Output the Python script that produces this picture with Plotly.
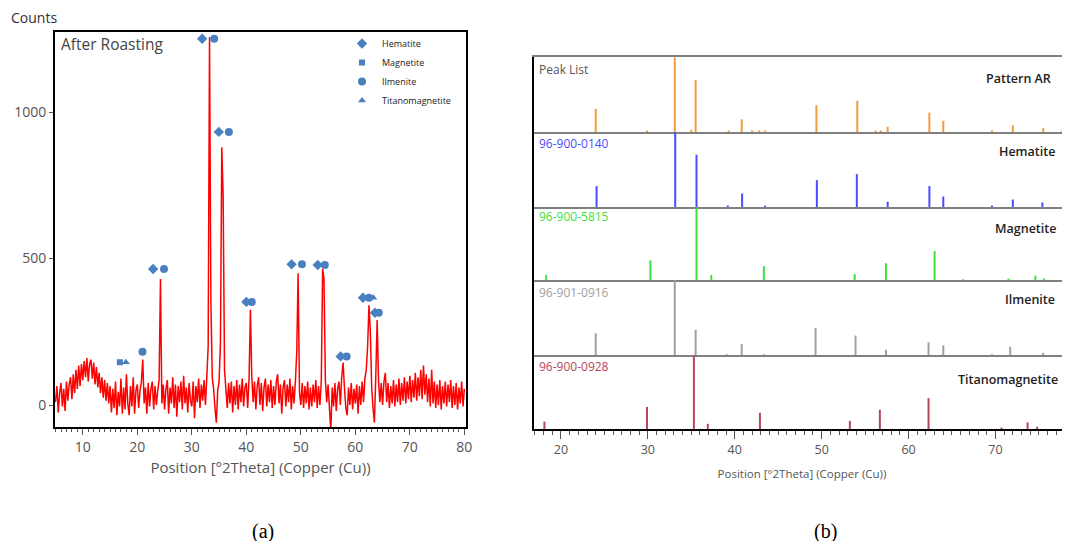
import plotly.graph_objects as go

PAGE_W, PAGE_H = 1070, 541
OFFSET = 8  # default page margin of the html body
W, H = PAGE_W - OFFSET, PAGE_H - OFFSET

# ---------------- (a) After Roasting diffractogram ----------------
TWO_THETA_START = 5.0
TWO_THETA_STEP = 0.25
COUNTS = [
    # 5.00 - 9.75
    10, 65, -25, 40, 75, -5, 55, -20, 80, 15, 70, 95, 20, 105, 40, 120, 55, 135, 65, 140,
    # 10.00 - 14.75
    85, 150, 95, 160, 80, 140, 155, 90, 145, 70, 130, 60, 110, 40, 95, 25, 85, 15, 75, 5,
    # 15.00 - 19.75
    65, -25, 55, -10, 80, -35, 45, -5, 90, -30, 60, -15, 105, 5, -35, 65, -5, 95, -30, 50,
    # 20.00 - 24.75
    70, -10, 50, 80, 155, 5, 60, -30, 75, -5, 55, 80, -15, 65, 0, 50, 85, 430, 5, 70,
    # 25.00 - 29.75
    -15, 55, 85, -30, 60, 5, 95, -10, 70, -40, 65, 10, 80, -15, 100, 5, 60, -25, 75, 15,
    # 30.00 - 34.75
    -5, 80, -45, 65, 10, 90, -10, 70, 15, 85, 0, 95, 200, 1255, 350, 95, 55, -10, -60, 50,
    # 35.00 - 39.75
    80, 210, 880, 710, 120, 55, -10, 75, 5, 80, -25, 65, 0, 85, -15, 70, 10, 90, -5, 60,
    # 40.00 - 44.75
    75, -10, 90, 325, 95, 10, 80, -15, 65, 95, 0, 75, -20, 60, 90, -5, 70, 10, 85, -10,
    # 45.00 - 49.75
    65, 0, 80, 105, 5, 70, -30, 60, 85, -5, 70, 10, 90, -15, 65, 5, 80, 180, 450, 45,
    # 50.00 - 54.75
    0, 75, -10, 65, 5, 80, -15, 60, -5, 70, 10, 85, -10, 65, 0, 80, 465, 430, 85, 10,
    # 55.00 - 59.75
    70, -10, -90, 60, -5, 75, -20, 55, 80, 0, 95, 145, 60, -10, -35, 60, 0, 75, -15, 55,
    # 60.00 - 64.75
    5, 70, -30, 65, 0, 80, 10, 90, 120, 200, 340, 250, 60, -10, -60, 100, 290, 85, 10, 75,
    # 65.00 - 69.75
    0, 80, 110, 10, 75, -10, 65, 5, 85, -5, 70, 10, 90, 0, 75, 15, 95, 5, 80, 20,
    # 70.00 - 74.75
    100, 10, 85, 25, 110, 15, 95, 30, 120, 20, 135, 35, 105, 10, 90, -5, 120, 5, 80, -10,
    # 75.00 - 80.00
    70, 0, 85, -15, 65, 5, 80, -5, 70, 10, 85, -10, 65, 0, 75, -15, 60, 5, 80, -5, 55,
]

HEM_MARK_X = [22.9, 31.9, 34.95, 40.0, 48.3, 53.1, 57.3, 61.4, 63.6]
HEM_MARK_Y = [464, 1250, 932, 352, 480, 478, 166, 366, 315]
MAG_MARK_X = [16.8]
MAG_MARK_Y = [146]
ILM_MARK_X = [20.95, 24.9, 34.1, 36.8, 41.0, 50.2, 54.4, 58.4, 62.5, 64.3]
ILM_MARK_Y = [182, 464, 1250, 932, 352, 480, 478, 166, 366, 315]
TIM_MARK_X = [17.9, 63.3]
TIM_MARK_Y = [146, 366]

# ---------------- (b) reference patterns (relative intensity) ----------------
AR_POS = [24.0, 29.9, 33.1, 35.0, 35.5, 39.3, 40.8, 42.0, 42.8, 43.5, 49.4, 54.1,
          56.2, 56.8, 57.6, 62.4, 64.0, 69.6, 72.0, 75.5, 77.7]
AR_INT = [31, 2, 100, 3, 70, 2, 17, 2, 2, 2, 36, 42, 2, 2, 7, 26, 15, 2, 9, 5, 2]

HEM_POS = [24.1, 33.15, 35.6, 39.2, 40.85, 43.5, 49.45, 54.05, 57.6, 62.4, 64.0, 69.6, 72.0, 75.4]
HEM_INT = [28, 100, 70, 2, 18, 2, 36, 44, 7, 28, 14, 2, 10, 6]

MAG_POS = [18.3, 30.3, 35.6, 37.3, 43.35, 53.8, 57.4, 63.0, 66.3, 71.5, 74.6, 75.6]
MAG_INT = [7, 27, 100, 7, 19, 8, 23, 40, 1, 2, 6, 2]

ILM_POS = [24.0, 33.1, 35.5, 39.1, 40.8, 43.35, 49.3, 53.9, 57.4, 62.3, 64.0, 69.6, 71.7, 75.5]
ILM_INT = [29, 100, 34, 1, 15, 1, 36, 26, 7, 17, 13, 1, 11, 3]

TIM_POS = [18.1, 29.9, 35.3, 36.9, 42.9, 53.25, 56.7, 62.3, 70.7, 73.7, 74.8]
TIM_INT = [10, 30, 100, 7, 22, 11, 26, 42, 2, 9, 3]

PANEL_CODES = ["Peak List", "96-900-0140", "96-900-5815", "96-901-0916", "96-900-0928"]
PANEL_NAMES = ["Pattern AR", "Hematite", "Magnetite", "Ilmenite", "Titanomagnetite"]
PANEL_COLORS = ["#f59a3c", "#4b4bff", "#3fe03f", "#a0a0a0", "#b5475a"]
CODE_COLORS = ["#555555", "#4b4bff", "#3fe03f", "#a0a0a0", "#b5475a"]
PANEL_DATA = [(AR_POS, AR_INT), (HEM_POS, HEM_INT), (MAG_POS, MAG_INT),
              (ILM_POS, ILM_INT), (TIM_POS, TIM_INT)]

FONT = "Open Sans"
MARK_COLOR = "#4a80c0"


def px_x(p):
    return (p - OFFSET) / W


def px_y(p):
    return 1 - (p - OFFSET) / H


def sticks(pos, inten):
    xs, ys = [], []
    for p, v in zip(pos, inten):
        xs += [p, p, None]
        ys += [0, v, None]
    return xs, ys


fig = go.Figure()

# left diffractogram
fig.add_trace(go.Scatter(y=COUNTS, x0=TWO_THETA_START, dx=TWO_THETA_STEP, mode="lines",
                         line=dict(color="#ff0000", width=1.5, simplify=False),
                         showlegend=False, xaxis="x", yaxis="y"))

for name, xs, ys, sym, size in [
    ("Hematite", HEM_MARK_X, HEM_MARK_Y, "diamond", 8),
    ("Magnetite", MAG_MARK_X, MAG_MARK_Y, "square", 6),
    ("Ilmenite", ILM_MARK_X, ILM_MARK_Y, "circle", 8),
    ("Titanomagnetite", TIM_MARK_X, TIM_MARK_Y, "triangle-up", 7),
]:
    fig.add_trace(go.Scatter(x=xs, y=ys, mode="markers", name=name,
                             marker=dict(symbol=sym, size=size, color=MARK_COLOR),
                             xaxis="x", yaxis="y"))

# right stacked stick patterns
panel_px = [(57, 132), (132, 207), (207, 280), (280, 355), (355, 429)]
for i, ((pos, inten), col) in enumerate(zip(PANEL_DATA, PANEL_COLORS)):
    xs, ys = sticks(pos, inten)
    k = i + 2
    fig.add_trace(go.Scatter(x=xs, y=ys, mode="lines", line=dict(color=col, width=2),
                             showlegend=False, hoverinfo="skip",
                             xaxis=f"x{k}", yaxis=f"y{k}"))

layout = dict(
    width=W, height=H,
    margin=dict(l=0, r=0, t=0, b=0, autoexpand=False),
    paper_bgcolor="white", plot_bgcolor="white",
    font=dict(family=FONT, color="#444444"),
    legend=dict(x=px_x(342), y=px_y(29), xanchor="left", yanchor="top",
                bgcolor="rgba(0,0,0,0)", font=dict(size=9, color="#222222"),
                tracegroupgap=0, itemsizing="trace"),
    xaxis=dict(domain=[px_x(55), px_x(466)], range=[4.9, 80.3], anchor="y",
               automargin=False,
               showline=True, linecolor="black", linewidth=2, mirror=True,
               showgrid=False, zeroline=False,
               ticks="outside", ticklen=6, tickcolor="#555555", dtick=10, tick0=0,
               minor=dict(ticks="outside", ticklen=3, dtick=1, tickcolor="#555555"),
               tickfont=dict(size=14, color="#555555"),
               title=dict(text="Position [°2Theta] (Copper (Cu))", standoff=8,
                          font=dict(size=15, color="#555555"))),
    yaxis=dict(domain=[px_y(427), px_y(32)], range=[-75, 1273], anchor="x",
               automargin=False,
               showline=True, linecolor="black", linewidth=2, mirror=True,
               showgrid=False, zeroline=False, tickvals=[0, 500, 1000],
               ticks="outside", ticklen=4, tickcolor="#555555",
               tickfont=dict(size=14, color="#555555")),
)

PX_PER_DEG_B = 8.69
for i, (top, bot) in enumerate(panel_px):
    k = i + 2
    last = (i == len(panel_px) - 1)
    xa = dict(domain=[px_x(534), 1.0], range=[16.9, 16.9 + (PAGE_W - 534) / PX_PER_DEG_B],
              anchor=f"y{k}", automargin=False,
              showgrid=False, zeroline=False, showline=True,
              linecolor="black" if last else "#808080", linewidth=2)
    if k != 6:
        xa["matches"] = "x6"
    if last:
        xa.update(ticks="outside", ticklen=8, tickcolor="#555555", dtick=10, tick0=0,
                  minor=dict(ticks="outside", ticklen=4, dtick=1, tickcolor="#555555"),
                  tickfont=dict(size=12.5, color="#555555"),
                  title=dict(text="Position [°2Theta] (Copper (Cu))", standoff=13,
                             font=dict(size=11.5, color="#555555")))
    else:
        xa.update(showticklabels=False, ticks="")
    if i == 0:
        xa.update(mirror=True)
    layout[f"xaxis{k}"] = xa
    layout[f"yaxis{k}"] = dict(domain=[px_y(bot), px_y(top)], range=[0, 100.5],
                               anchor=f"x{k}", showgrid=False, zeroline=False,
                               automargin=False,
                               showline=True, linecolor="black", linewidth=2,
                               showticklabels=False, ticks="")

fig.update_layout(**layout)

ann = [
    dict(text="Counts", x=px_x(9), y=px_y(18), xanchor="left", yanchor="middle",
         font=dict(size=14, color="#333333")),
    dict(text="After Roasting", x=px_x(59), y=px_y(44), xanchor="left", yanchor="middle",
         font=dict(size=15.5, color="#444444")),
    dict(text="(a)", x=px_x(263), y=px_y(531), xanchor="center", yanchor="middle",
         font=dict(family="Liberation Serif", size=20, color="black")),
    dict(text="(b)", x=px_x(825), y=px_y(531), xanchor="center", yanchor="middle",
         font=dict(family="Liberation Serif", size=20, color="black")),
]
code_y = [69, 143, 217, 292, 366]
name_y = [79, 151, 228, 299, 379]
name_right = [1053, 1057, 1058, 1057, 1060]
for i in range(5):
    ann.append(dict(text=PANEL_CODES[i], x=px_x(537), y=px_y(code_y[i]), xanchor="left",
                    yanchor="middle", font=dict(size=12, color=CODE_COLORS[i])))
    ann.append(dict(text=PANEL_NAMES[i], x=px_x(name_right[i]), y=px_y(name_y[i]),
                    xanchor="right", yanchor="middle",
                    font=dict(size=12.5, color="#222222", weight=600)))
for a in ann:
    a.update(xref="paper", yref="paper", showarrow=False)
fig.update_layout(annotations=ann)

fig.write_html("out.html")
